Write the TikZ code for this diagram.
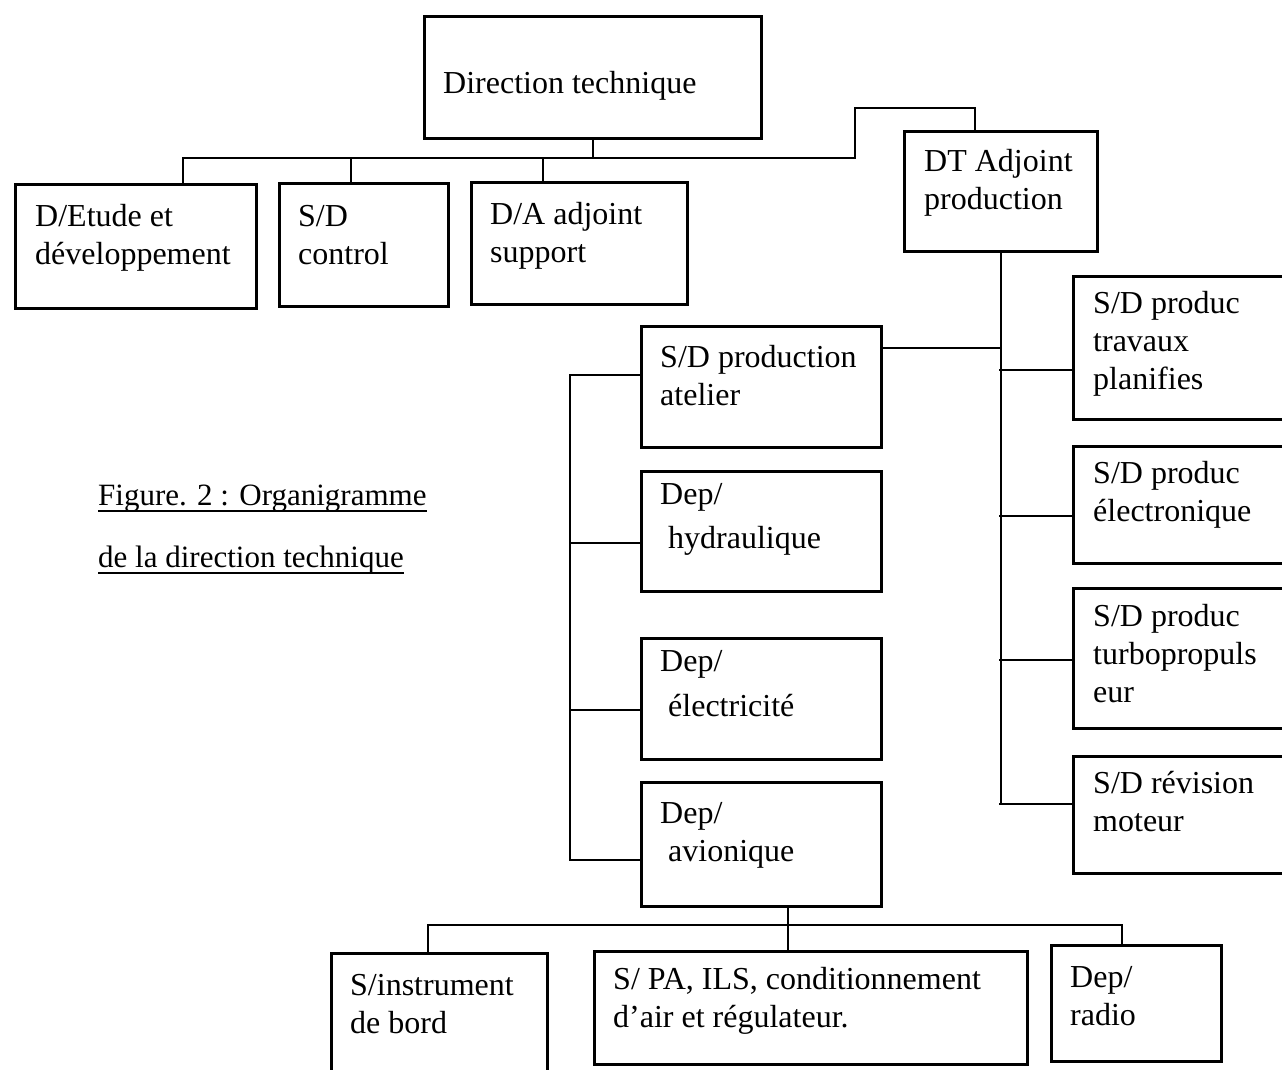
\documentclass[tikz,border=0pt]{standalone}
\usepackage{fontspec}
\setmainfont{Liberation Serif}
\newcommand{\fl}{\rule{0pt}{27pt}}
\begin{document}
\begin{tikzpicture}[x=1pt,y=-1pt,
  box/.style={draw, line width=3pt, inner sep=0pt, anchor=north west},
  txt/.style={anchor=north west, inner sep=0pt, align=left, font=\fontsize{32}{38}\selectfont},
  ttl/.style={anchor=base west, inner sep=0pt, font=\fontsize{31}{38}\selectfont},
  con/.style={line width=2.8pt, line cap=rect},
  uline/.style={line width=2.2pt}]
\useasboundingbox (0,0) rectangle (1282,1069);
\fill[white] (0,0) rectangle (1282,1069);
\begin{scope}
\clip (0,0) rectangle (1282,1069);
% boxes
\node[box, minimum width=337, minimum height=122] (dt)  at (423,15) {};
\node[box, minimum width=241, minimum height=124] (de)  at (14,183) {};
\node[box, minimum width=169, minimum height=123] (sdc) at (278,182) {};
\node[box, minimum width=216, minimum height=122] (da)  at (470,181) {};
\node[box, minimum width=193, minimum height=120] (dta) at (903,130) {};
\node[box, minimum width=260, minimum height=143] (r1)  at (1072,275) {};
\node[box, minimum width=260, minimum height=117] (r2)  at (1072,445) {};
\node[box, minimum width=260, minimum height=140] (r3)  at (1072,587) {};
\node[box, minimum width=260, minimum height=117] (r4)  at (1072,755) {};
\node[box, minimum width=240, minimum height=121] (m1)  at (640,325) {};
\node[box, minimum width=240, minimum height=120] (m2)  at (640,470) {};
\node[box, minimum width=240, minimum height=121] (m3)  at (640,637) {};
\node[box, minimum width=240, minimum height=124] (m4)  at (640,781) {};
\node[box, minimum width=216, minimum height=200] (b1)  at (330,952) {};
\node[box, minimum width=433, minimum height=113] (b2)  at (593,950) {};
\node[box, minimum width=170, minimum height=116] (b3)  at (1050,944) {};
% texts
\node[txt] (dt-t)  at (443,93-27)   {\fl Direction technique};
\node[txt] (de-t)  at (35,226-27)   {\fl D/Etude et\\développement};
\node[txt] (sdc-t) at (298,226-27)  {\fl S/D\\control};
\node[txt] (da-t)  at (490,224-27)  {\fl D/A adjoint\\support};
\node[txt] (dta-t) at (924,171-27)  {\fl DT Adjoint\\production};
\node[txt] (r1-t)  at (1093,313-27) {\fl S/D produc\\travaux\\planifies};
\node[txt] (r2-t)  at (1093,483-27) {\fl S/D produc\\électronique};
\node[txt] (r3-t)  at (1093,626-27) {\fl S/D produc\\turbopropuls\\eur};
\node[txt] (r4-t)  at (1093,793-27) {\fl S/D révision\\moteur};
\node[txt] (m1-t)  at (660,367-27)  {\fl S/D production\\atelier};
\node[txt] (m2-t)  at (660,504-27)  {\fl Dep/\\[6pt]\hspace*{8pt}hydraulique};
\node[txt] (m3-t)  at (660,671-27)  {\fl Dep/\\[7pt]\hspace*{8pt}électricité};
\node[txt] (m4-t)  at (660,823-27)  {\fl Dep/\\\hspace*{8pt}avionique};
\node[txt] (b1-t)  at (350,995-27)  {\fl S/instrument\\de bord};
\node[txt] (b2-t)  at (613,989-27)  {\fl S/ PA, ILS, conditionnement\\d’air et régulateur.};
\node[txt] (b3-t)  at (1070,987-27) {\fl Dep/\\radio};
% title
\node[ttl] (t1) at (98,505) {Figure. 2 : Organigramme};
\node[ttl] (t2) at (98,567) {de la direction technique};
\draw[uline] ([yshift=-6pt]t1.base west) -- ([yshift=-6pt]t1.base east);
\draw[uline] ([yshift=-6pt]t2.base west) -- ([yshift=-6pt]t2.base east);
% top bus
\coordinate (k1) at (183,158);
\coordinate (k2) at (351,158);
\coordinate (k3) at (543,158);
\coordinate (k4) at (855,158);
\coordinate (j1) at (855,108);
\coordinate (j2) at (975,108);
\draw[con] (dt.south) -- (dt.south |- k1);
\draw[con] (k1) -- (k4);
\draw[con] (k1) -- (k1 |- de.north);
\draw[con] (k2) -- (k2 |- sdc.north);
\draw[con] (k3) -- (k3 |- da.north);
\draw[con] (k4) -- (j1) -- (j2) -- (j2 |- dta.north);
% right spine
\coordinate (q0) at (1000,348);
\coordinate (q1) at (1000,370);
\coordinate (q2) at (1000,516);
\coordinate (q3) at (1000,660);
\coordinate (q4) at (1000,804);
\draw[con] (dta.south) -- (dta.south |- q4);
\draw[con] (q0) -- (q0 -| m1.east);
\draw[con] (q1) -- (q1 -| r1.west);
\draw[con] (q2) -- (q2 -| r2.west);
\draw[con] (q3) -- (q3 -| r3.west);
\draw[con] (q4) -- (q4 -| r4.west);
% left spine
\coordinate (p1) at (570,375);
\coordinate (p2) at (570,543);
\coordinate (p3) at (570,710);
\coordinate (p4) at (570,860);
\draw[con] (p1 -| m1.west) -- (p1) -- (p4) -- (p4 -| m4.west);
\draw[con] (p2) -- (p2 -| m2.west);
\draw[con] (p3) -- (p3 -| m3.west);
% bottom bus
\coordinate (d0) at (788,925);
\coordinate (bL) at (428,925);
\coordinate (bR) at (1122,925);
\draw[con] (d0 |- m4.south) -- (d0);
\draw[con] (bL) -- (bR);
\draw[con] (bL) -- (bL |- b1.north);
\draw[con] (d0) -- (d0 |- b2.north);
\draw[con] (bR) -- (bR |- b3.north);
\end{scope}
\end{tikzpicture}
\end{document}
